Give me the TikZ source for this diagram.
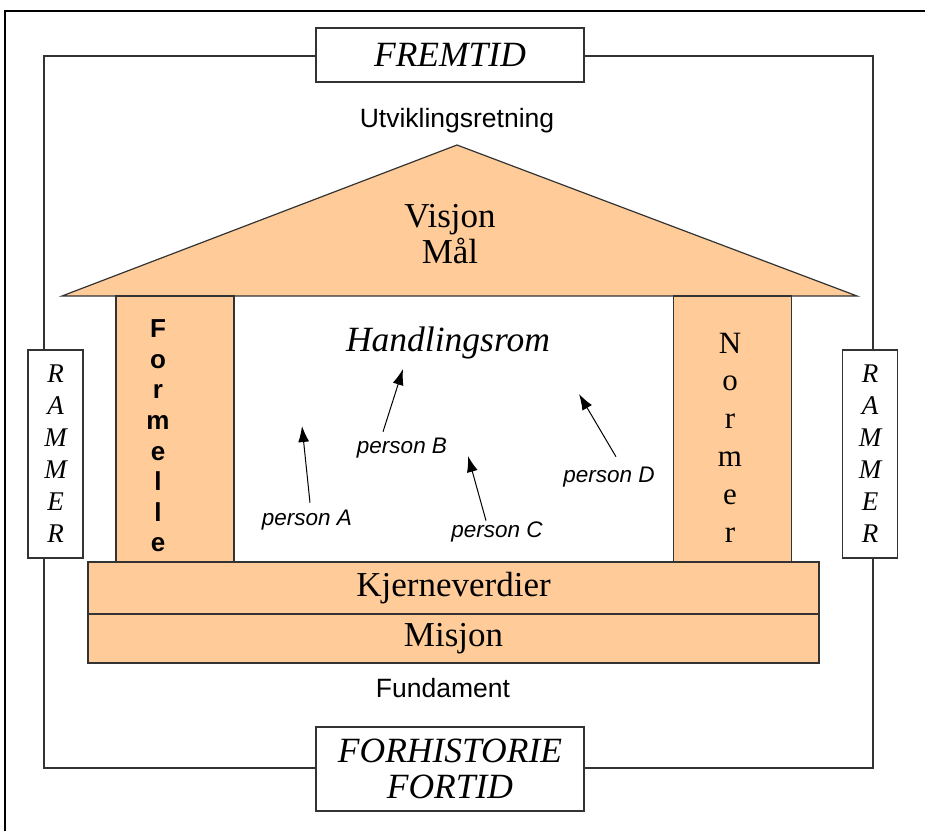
\documentclass[tikz,border=0pt]{standalone}
\usepackage{fontspec}
\setmainfont{Liberation Serif}
\setsansfont{Liberation Sans}
\usetikzlibrary{arrows.meta, positioning}
\definecolor{peach}{HTML}{FFCC99}
\definecolor{linegray}{HTML}{333333}
\tikzstyle{frameline} = [draw=linegray, line width=1.2pt]
\tikzstyle{timebox} = [rectangle, draw=linegray, fill=white, line width=1.2pt, minimum width=268pt,
                       align=center, inner sep=1pt, font=\itshape\fontsize{35.5}{36}\selectfont]
\tikzstyle{rammerbox} = [rectangle, draw=linegray, fill=white, line width=1.2pt, minimum width=55pt,
                         minimum height=208pt, align=center, inner sep=1pt, font=\itshape\fontsize{27}{32}\selectfont]
\tikzstyle{pillar} = [rectangle, draw=linegray, fill=peach, line width=1.2pt, minimum width=118pt,
                      minimum height=266pt]
\tikzstyle{band} = [rectangle, draw=linegray, fill=peach, line width=1.2pt, minimum width=731pt,
                    font=\fontsize{35}{36}\selectfont]
\tikzstyle{sanslabel} = [font=\sffamily\fontsize{26.5}{28}\selectfont, inner sep=1pt]
\tikzstyle{personlabel} = [font=\sffamily\itshape\fontsize{22.5}{24}\selectfont, inner sep=1pt]
\tikzstyle{arrow} = [line width=1pt, -{Latex[length=16pt,width=11pt]}]

\begin{document}
\begin{tikzpicture}[x=1pt, y=-1pt]
    \useasboundingbox (0,0) rectangle (925,831);
    % Page edge
    \draw[line width=2pt] (5,831) -- (5,11) -- (925,11);

    % Frame with time boxes and RAMMER
    \draw[frameline] (44,56) rectangle (873,768);
    \node[timebox, minimum height=54pt] (fremtid) at (450,55) {FREMTID};
    \node[timebox, minimum height=84pt] (fortid) at (450,769) {FORHISTORIE\\FORTID};
    \node[rammerbox] (rammerleft) at (55.5,454) {R\\A\\M\\M\\E\\R};
    \node[rammerbox] (rammerright) at (870,454) {R\\A\\M\\M\\E\\R};

    % Roof
    \draw[frameline, fill=peach] (62,296) -- (457,145) -- (857,296) -- cycle;
    \node[sanslabel] (retning) at (457,121) {Utviklingsretning};
    \node[align=center, font=\fontsize{35}{36}\selectfont] (visjon) at (450,234) {Visjon\\Mål};

    % Pillars
    \node[pillar] (pillarleft) at (175,429) {};
    \node[pillar] (pillarright) at (732.5,429) {};
    \node[align=center, inner sep=0pt, font=\sffamily\bfseries\fontsize{26}{30.6}\selectfont]
        (formelle) at (158,436) {F\\o\\r\\m\\e\\l\\l\\e};
    \node[align=center, inner sep=0pt, font=\fontsize{31}{37.8}\selectfont]
        (normer) at (730,437.5) {N\\o\\r\\m\\e\\r};

    % Foundation
    \node[band, minimum height=52pt] (kjerne) at (453.5,588) {Kjerneverdier};
    \node[band, minimum height=49pt] (misjon) at (453.5,638.5) {Misjon};
    \node[sanslabel] (fundament) at (443,688) {Fundament};

    % Handlingsrom with persons
    \node[font=\itshape\fontsize{35.5}{36}\selectfont] (rom) at (448,343) {Handlingsrom};
    \node[personlabel] (pa) at (307,520) {person A};
    \node[personlabel] (pb) at (402,448) {person B};
    \node[personlabel] (pc) at (497,532) {person C};
    \node[personlabel] (pd) at (609,477) {person D};
    \coordinate (ta) at (302,426);
    \coordinate (tb) at (403,369);
    \coordinate (tc) at (468,456);
    \coordinate (td) at (579,394);

    % Arrows
    \draw[arrow] ([xshift=3pt,yshift=6pt]pa.north) -- (ta);
    \draw[arrow] ([xshift=-19pt,yshift=5pt]pb.north) -- (tb);
    \draw[arrow] ([xshift=-11pt]pc.north) -- (tc);
    \draw[arrow] ([xshift=7pt,yshift=9pt]pd.north) -- (td);
\end{tikzpicture}
\end{document}
